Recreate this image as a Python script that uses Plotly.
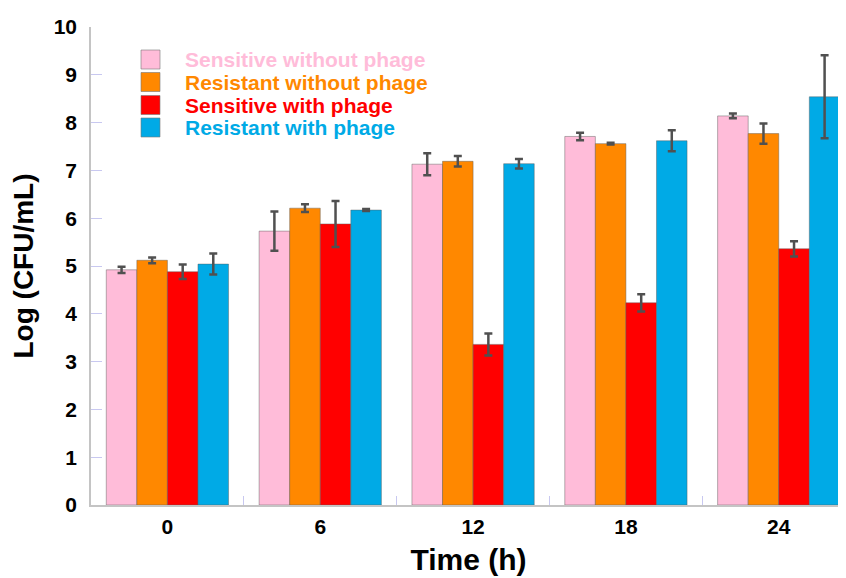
import plotly.graph_objects as go

times = ["0", "6", "12", "18", "24"]
series_names = ["Sensitive without phage", "Resistant without phage",
                "Sensitive with phage", "Resistant with phage"]
sens_no_phage = [4.92, 5.73, 7.13, 7.71, 8.14]
sens_no_phage_err = [0.065, 0.41, 0.23, 0.08, 0.05]
res_no_phage = [5.12, 6.21, 7.19, 7.56, 7.77]
res_no_phage_err = [0.06, 0.08, 0.11, 0.02, 0.21]
sens_phage = [4.88, 5.88, 3.36, 4.23, 5.36]
sens_phage_err = [0.15, 0.48, 0.23, 0.18, 0.16]
res_phage = [5.04, 6.17, 7.14, 7.62, 8.54]
res_phage_err = [0.22, 0.02, 0.10, 0.22, 0.87]
y_ticks = [0, 1, 2, 3, 4, 5, 6, 7, 8, 9, 10]

colors = ["#FFBCD9", "#FF8800", "#FF0000", "#00AAE6"]
values = [sens_no_phage, res_no_phage, sens_phage, res_phage]
errors = [sens_no_phage_err, res_no_phage_err, sens_phage_err, res_phage_err]

FONT = "Arial, Liberation Sans, sans-serif"
# page body has an 8px margin, so the figure starts at (8, 8)
OFF = 8
W, H = 846 - OFF, 578 - OFF
L, R, T, B = 91 - OFF, 0, 27 - OFF, 73

fig = go.Figure()
for name, col, v, e in zip(series_names, colors, values, errors):
    fig.add_trace(go.Bar(
        x=times, y=v, name=name,
        marker=dict(color=col, line=dict(color="rgba(90,90,90,0.45)", width=1)),
        error_y=dict(type="data", array=e, visible=True, color="#505050",
                     thickness=2.5, width=4),
        showlegend=False,
    ))

# manual legend (large squares with coloured text); positions in screen pixels
pw, ph = W - L - R, H - T - B
def px(x):
    return (x - OFF - L) / pw
def py(y):
    return (H + OFF - B - y) / ph

rows = [59.5, 82, 105, 127.5]
for name, col, yc in zip(series_names, colors, rows):
    fig.add_shape(type="rect", xref="paper", yref="paper",
                  x0=px(141), x1=px(160), y0=py(yc + 9.5), y1=py(yc - 9.5),
                  fillcolor=col, line=dict(color="rgba(120,120,120,0.6)", width=1))
    fig.add_annotation(xref="paper", yref="paper", x=px(183), y=py(yc),
                       xanchor="left", yanchor="middle", showarrow=False,
                       text="<b>%s</b>" % name,
                       font=dict(family=FONT, size=21, color=col))

fig.update_layout(
    width=W, height=H,
    margin=dict(l=L, r=R, t=T, b=B, pad=0),
    plot_bgcolor="white", paper_bgcolor="white",
    barmode="group", bargap=0.2, bargroupgap=0,
    font=dict(family=FONT, color="black"),
)
fig.update_xaxes(
    range=[-0.5, 4.44], showline=True, linecolor="#c4c4c4", linewidth=1.5,
    ticks="inside", tickson="boundaries", ticklen=9, tickcolor="#c8c8f0",
    tickwidth=1, showgrid=False, zeroline=False,
    tickfont=dict(family=FONT, size=21, color="black"),
    ticklabelstandoff=2,
    title=dict(text="<b>Time (h)</b>", font=dict(family=FONT, size=30, color="black"),
               standoff=12),
)
fig.update_yaxes(
    range=[0, 10], tickvals=y_ticks, showline=True, linecolor="#c4c4c4",
    linewidth=1.5, ticks="inside", ticklen=11, tickcolor="#c8c8f0", tickwidth=1,
    showgrid=False, zeroline=False,
    tickfont=dict(family=FONT, size=21, color="black"),
    ticklabelstandoff=8,
    title=dict(text="<b>Log (CFU/mL)</b>", font=dict(family=FONT, size=28, color="black"),
               standoff=12),
)
fig.update_xaxes(tickvals=times, ticktext=["<b>%s</b>" % t for t in times])
fig.update_yaxes(ticktext=["<b>%d</b>" % t for t in y_ticks])

fig.write_html("out.html")
